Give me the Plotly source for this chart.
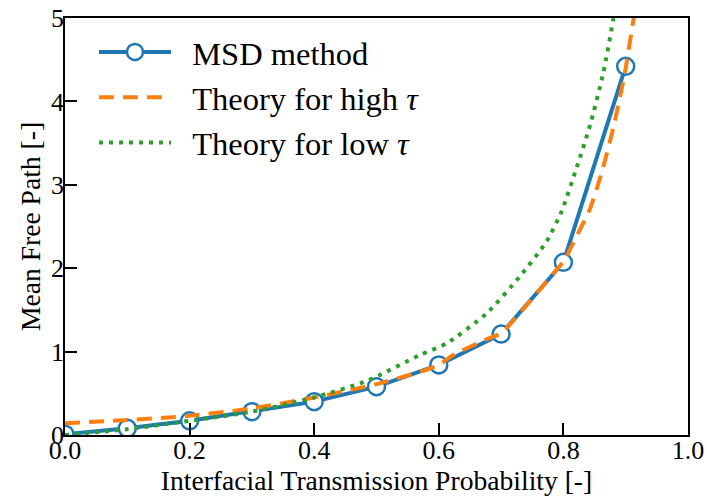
import plotly.graph_objects as go

# MSD method data
msd_x = [0.0, 0.1, 0.2, 0.3, 0.4, 0.5, 0.6, 0.7, 0.8, 0.9]
msd_y = [0.01, 0.08, 0.17, 0.28, 0.40, 0.58, 0.84, 1.21, 2.07, 4.42]

# Theory for high tau
high_x = [0.0, 0.1, 0.2, 0.3, 0.4, 0.5, 0.57, 0.6, 0.623, 0.677, 0.7, 0.746, 0.79, 0.8, 0.821, 0.843, 0.862, 0.88, 0.896, 0.9, 0.912, 0.916]
high_y = [0.14, 0.18, 0.23, 0.32, 0.45, 0.61, 0.76, 0.84, 0.96, 1.15, 1.22, 1.60, 1.99, 2.08, 2.38, 2.72, 3.16, 3.68, 4.24, 4.40, 4.96, 5.15]

# Theory for low tau
low_x = [0.0, 0.1, 0.2, 0.3, 0.4, 0.485, 0.57, 0.613, 0.677, 0.73, 0.773, 0.797, 0.821, 0.843, 0.864, 0.88, 0.884]
low_y = [0.0, 0.07, 0.17, 0.28, 0.45, 0.65, 0.96, 1.10, 1.46, 1.90, 2.32, 2.68, 3.20, 3.72, 4.34, 4.98, 5.15]

FONT = "Liberation Serif"
PAD = "\u2002"

fig = go.Figure()
fig.add_trace(go.Scatter(
    x=msd_x, y=msd_y, mode="lines+markers", name=PAD + "MSD method",
    line=dict(color="#1f77b4", width=4),
    marker=dict(symbol="circle", size=17, color="white",
                line=dict(color="#1f77b4", width=2.5)),
))
fig.add_trace(go.Scatter(
    x=high_x, y=high_y, mode="lines", name=PAD + "Theory for high <i>τ</i>",
    line=dict(color="#ff7f0e", width=4, dash="15px,9px", shape="spline", smoothing=0.6),
))
fig.add_trace(go.Scatter(
    x=low_x, y=low_y, mode="lines", name=PAD + "Theory for low <i>τ</i>",
    line=dict(color="#2ca02c", width=4, dash="4px,6px", shape="spline", smoothing=0.6),
))

axis_common = dict(
    showgrid=False, zeroline=False,
    showline=True, linecolor="black", linewidth=1.8, mirror=True,
    ticks="inside", ticklen=12, tickwidth=1.8, tickcolor="black",
    tickfont=dict(family=FONT, size=26, color="black"),
)

fig.update_xaxes(
    range=[0, 1], tickvals=[0, 0.2, 0.4, 0.6, 0.8, 1.0],
    ticktext=["0.0", "0.2", "0.4", "0.6", "0.8", "1.0"],
    ticklabelstandoff=-9,
    title=dict(text="Interfacial Transmission Probability [-]",
               font=dict(family=FONT, size=27.6, color="black"), standoff=5),
    **axis_common,
)
fig.update_yaxes(
    range=[0, 5], tickvals=[0, 1, 2, 3, 4, 5],
    ticklabelstandoff=-6,
    title=dict(text="Mean Free Path [-]",
               font=dict(family=FONT, size=27.6, color="black"), standoff=2),
    **axis_common,
)

fig.update_layout(
    width=707, height=498,
    margin=dict(l=65, r=19, t=18, b=63, autoexpand=False),
    paper_bgcolor="white", plot_bgcolor="white",
    showlegend=True,
    legend=dict(x=0.0465, y=0.985, xanchor="left", yanchor="top",
                bgcolor="rgba(0,0,0,0)", borderwidth=0,
                font=dict(family=FONT, size=32.5, color="black"),
                itemwidth=72, tracegroupgap=0),
)

fig.write_html("out.html", config={"displayModeBar": False},
               post_script="document.body.style.margin='0';document.body.style.padding='0';")
